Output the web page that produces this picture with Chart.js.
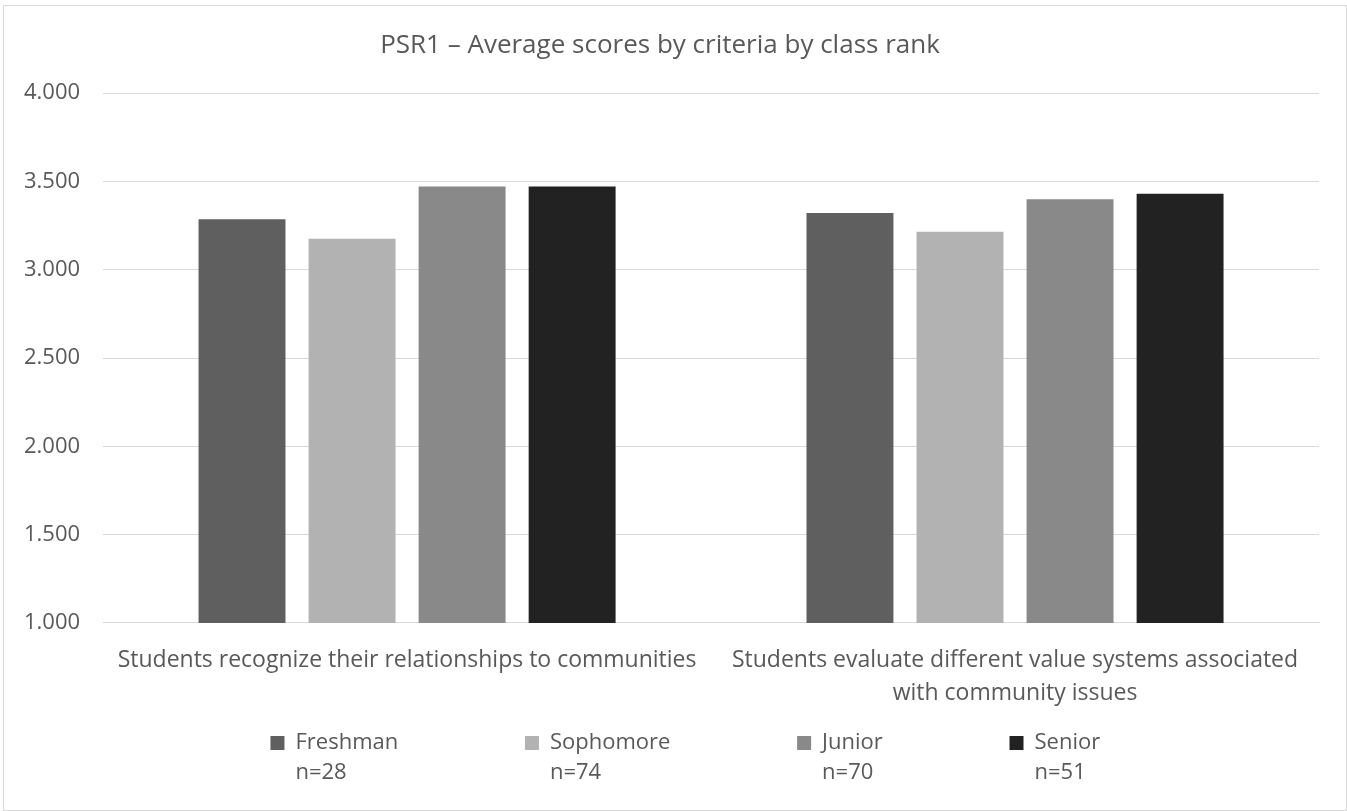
<!DOCTYPE html>
<html>
<head>
<meta charset="utf-8">
<title>PSR1 – Average scores by criteria by class rank</title>
<script src="https://cdn.jsdelivr.net/npm/chart.js@4/dist/chart.umd.min.js"></script>
<style>
  html, body { margin: 0; padding: 0; background: #fff; }
  #wrap { position: relative; width: 1347px; height: 811px; }
  #frame {
    position: absolute; left: 3px; top: 5px; width: 1342px; height: 804px;
    border: 1px solid #d9d9d9; pointer-events: none;
  }
</style>
</head>
<body>
<div id="wrap">
  <canvas id="chart" width="1347" height="811"></canvas>
  <div id="frame"></div>
</div>
<script>
// chart data
const categories = [
  "Students recognize their relationships to communities",
  ["Students evaluate different value systems associated", "with community issues"],
];
const seriesNames = ["Freshman", "Sophomore", "Junior", "Senior"];
const sampleSizes = ["n=28", "n=74", "n=70", "n=51"];
const freshman = [3.286, 3.321];
const sophomore = [3.176, 3.216];
const junior = [3.471, 3.400];
const senior = [3.471, 3.431];
const yTicks = { min: 1, max: 4, step: 0.5 };

const colors = ["#5f5f5f", "#b2b2b2", "#898989", "#222222"];
const textColor = "#595959";
const font = "'Open Sans', sans-serif";
const legendFontSize = 22;
const legendBox = 14;
// excel leaves a fixed gap after each legend entry
const legendGap = " ".repeat(22);

const seriesValues = [freshman, sophomore, junior, senior];
const datasets = seriesNames.map((name, i) => ({
  label: name,
  data: seriesValues[i],
  backgroundColor: colors[i],
  borderWidth: 0,
  categoryPercentage: 0.724,
  barPercentage: 0.79,
}));

// second legend line (sample size) under each entry
const sampleSizeLines = {
  id: "sampleSizeLines",
  afterDraw(chart) {
    const legend = chart.legend;
    if (!legend || !legend.legendHitBoxes) return;
    const ctx = chart.ctx;
    ctx.save();
    ctx.font = `${legendFontSize}px ${font}`;
    ctx.fillStyle = textColor;
    ctx.textAlign = "left";
    ctx.textBaseline = "middle";
    legend.legendHitBoxes.forEach((hb, i) => {
      const x = hb.left + legendBox + legendFontSize / 2;
      const y = hb.top + hb.height / 2 + 30;
      ctx.fillText(sampleSizes[i], x, y);
    });
    ctx.restore();
  },
};

new Chart(document.getElementById("chart"), {
  type: "bar",
  data: { labels: categories, datasets },
  plugins: [sampleSizeLines],
  options: {
    responsive: false,
    devicePixelRatio: 1,
    animation: false,
    layout: { padding: { top: 15, left: 1, right: 28, bottom: 47 } },
    plugins: {
      title: {
        display: true,
        text: "PSR1 – Average scores by criteria by class rank",
        color: textColor,
        font: { family: font, size: 26, weight: "normal", lineHeight: 1.2 },
        padding: { top: 15, bottom: 32 },
      },
      legend: {
        position: "bottom",
        fullSize: false,
        labels: {
          color: textColor,
          font: { family: font, size: legendFontSize },
          boxWidth: legendBox,
          boxHeight: legendBox,
          padding: 1,
          generateLabels: (chart) =>
            Chart.defaults.plugins.legend.labels.generateLabels(chart).map((item, i) => ({
              ...item,
              text: seriesNames[i] + (i < seriesNames.length - 1 ? legendGap : " ".repeat(9)),
              lineWidth: 0,
            })),
        },
      },
      tooltip: { enabled: false },
    },
    scales: {
      x: {
        grid: { display: false, drawTicks: false },
        border: { color: "#d9d9d9", width: 1 },
        ticks: {
          color: textColor,
          font: { family: font, size: 23, lineHeight: 1.435 },
          padding: 21,
          maxRotation: 0,
          autoSkip: false,
        },
      },
      y: {
        min: yTicks.min,
        max: yTicks.max,
        grid: { color: "#d9d9d9", lineWidth: 1, drawTicks: false },
        border: { display: false },
        ticks: {
          stepSize: yTicks.step,
          color: textColor,
          font: { family: font, size: 22 },
          padding: 23,
          callback: (v) => Number(v).toFixed(3),
        },
      },
    },
  },
});
</script>
</body>
</html>
